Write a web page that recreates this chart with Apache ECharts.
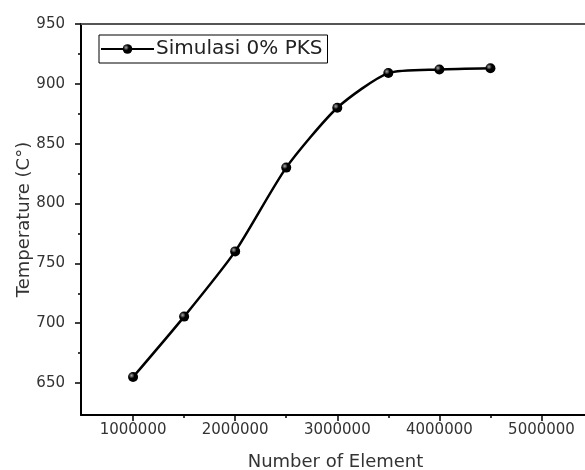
<!DOCTYPE html>
<html>
<head>
<meta charset="utf-8">
<script src="https://cdn.jsdelivr.net/npm/echarts@6/dist/echarts.min.js"></script>
<style>
  html, body { margin: 0; padding: 0; background: #fff; }
  #chart { width: 585px; height: 470px; }
</style>
</head>
<body>
<div id="chart"></div>
<script>
// data
var elements = [1000000, 1500000, 2000000, 2500000, 3000000, 3500000, 4000000, 4500000];
var temperature = [655, 705.5, 760, 830, 880, 909, 912, 913];
var xTicks = [1000000, 2000000, 3000000, 4000000, 5000000];
var xMinorTicks = [1500000, 2500000, 3500000, 4500000];
var yTicks = [650, 700, 750, 800, 850, 900, 950];
var yMinorTicks = [675, 725, 775, 825, 875, 925];

var chart = echarts.init(document.getElementById('chart'));

var font = 'DejaVu Sans';
// plot is cut off at the right edge of the picture, so the grid runs past it
var xMin = 490000, xMax = 5475000;
var yMin = 623.3, yMax = 950;
var ball = {
  type: 'radial', x: 0.35, y: 0.35, r: 0.65,
  colorStops: [{ offset: 0, color: '#aaa' }, { offset: 0.45, color: '#000' }, { offset: 1, color: '#000' }]
};
var rect = { left: 81, top: 24, right: -5, bottom: 55, outerBoundsMode: 'none', containLabel: false };
var tickLine = { color: '#000', width: 1.5 };

chart.setOption({
  animation: false,
  // second grid only carries the short minor ticks
  grid: [rect, rect],
  legend: {
    left: 99, top: 35,
    orient: 'vertical',
    itemWidth: 53, itemHeight: 12, itemGap: 0,
    padding: [4, 5, 4, 1],
    borderColor: '#000', borderWidth: 1,
    textStyle: { fontFamily: font, fontSize: 20, color: '#222', padding: [0, 0, 0, -3] },
    data: ['Simulasi 0% PKS']
  },
  xAxis: [{
    type: 'value', gridIndex: 0, position: 'bottom',
    min: xMin, max: xMax,
    name: 'Number of Element',
    nameLocation: 'middle', nameGap: 38, nameMoveOverlap: false,
    nameTextStyle: { fontFamily: font, fontSize: 18, color: '#333' },
    splitLine: { show: false },
    axisLine: { lineStyle: { color: '#000', width: 2 } },
    axisTick: { length: 6, customValues: xTicks, lineStyle: tickLine },
    axisLabel: { customValues: xTicks, margin: 8, fontFamily: font, fontSize: 15, color: '#333',
      formatter: function (v) { return String(v); } }
  }, {
    type: 'value', gridIndex: 0, position: 'top',
    min: xMin, max: xMax,
    splitLine: { show: false },
    axisLine: { lineStyle: { color: '#555', width: 2 } },
    axisTick: { show: false },
    axisLabel: { show: false }
  }, {
    type: 'value', gridIndex: 1, position: 'bottom',
    min: xMin, max: xMax,
    splitLine: { show: false },
    axisLine: { show: false },
    axisTick: { length: 3, customValues: xMinorTicks, lineStyle: tickLine },
    axisLabel: { show: false }
  }],
  yAxis: [{
    type: 'value', gridIndex: 0, position: 'left',
    min: yMin, max: yMax,
    name: 'Temperature (C°)',
    nameLocation: 'middle', nameGap: 48, nameMoveOverlap: false,
    nameTextStyle: { fontFamily: font, fontSize: 18, color: '#333' },
    splitLine: { show: false },
    axisLine: { show: true, lineStyle: { color: '#000', width: 2 } },
    axisTick: { show: true, length: 6, customValues: yTicks, lineStyle: tickLine },
    axisLabel: { customValues: yTicks, margin: 16, fontFamily: font, fontSize: 15, color: '#333' }
  }, {
    type: 'value', gridIndex: 1, position: 'left',
    min: yMin, max: yMax,
    splitLine: { show: false },
    axisLine: { show: false },
    axisTick: { show: true, length: 3, customValues: yMinorTicks, lineStyle: tickLine },
    axisLabel: { show: false }
  }],
  series: [{
    name: 'Simulasi 0% PKS',
    type: 'line',
    xAxisIndex: 0, yAxisIndex: 0,
    smooth: 0.22,
    data: elements.map(function (x, i) { return [x, temperature[i]]; }),
    symbol: 'circle',
    symbolSize: 10,
    itemStyle: { color: ball, borderWidth: 0 },
    lineStyle: { color: '#000', width: 2.5 }
  }]
});
</script>
</body>
</html>
